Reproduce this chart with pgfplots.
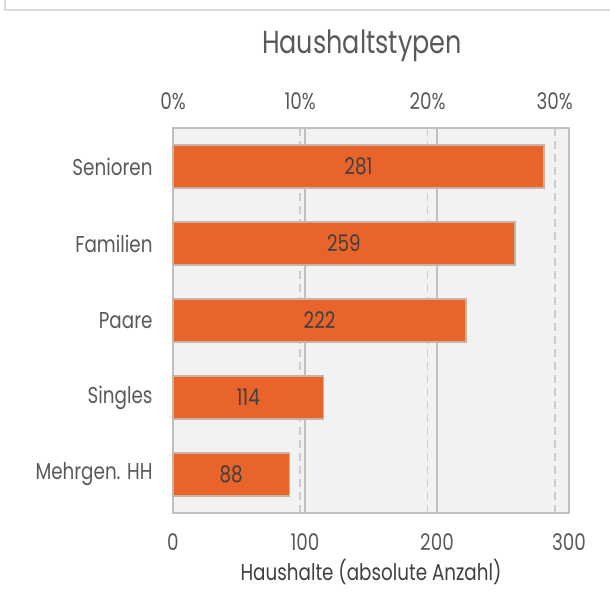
\documentclass[border=0pt]{standalone}
\usepackage{fontspec}
\setmainfont{Poppins}[FakeStretch=0.8]
\usepackage{pgfplots}
\pgfplotsset{compat=1.18}
\definecolor{barorange}{HTML}{E9642A}
\definecolor{barborder}{HTML}{C9B3A6}
\definecolor{bggray}{HTML}{F2F2F2}
\definecolor{gridsolid}{HTML}{BFBFBF}
\definecolor{griddash}{HTML}{CCCCCC}
\definecolor{txtgray}{HTML}{595959}
\definecolor{lbldark}{HTML}{404040}
\definecolor{framegray}{HTML}{D9D9D9}
\begin{document}
\begin{tikzpicture}[x=1bp,y=1bp]
\path[use as bounding box] (0,0) rectangle (610,616);
\draw[color=framegray, line width=2bp] (5,616) -- (5,606) -- (611,606);
\node[text=txtgray, font=\fontsize{32}{36}\selectfont] at (362,570) {Haushaltstypen};
% percent (secondary) axis
\begin{axis}[
  at={(173bp,103bp)}, anchor=south west,
  width=396bp, height=385bp, scale only axis,
  xmin=0, xmax=31.12, ymin=0.5, ymax=5.5,
  axis background/.style={fill=bggray},
  axis x line*=top, axis y line=none,
  x axis line style={draw=none},
  xtick={0,10,20,30},
  xticklabels={0\%,10\%,20\%,30\%},
  ytick=\empty,
  major tick length=0pt,
  xmajorgrids,
  major grid style={griddash, line width=1.6bp, dash pattern=on 8bp off 5bp},
  xticklabel style={text=txtgray, font=\fontsize{23}{26}\selectfont, yshift=15bp},
]
\addplot[xbar, bar width=43bp, fill=barorange, draw=barborder, line width=1.2bp] coordinates {
(29.15,5) (26.87,4) (23.03,3) (11.83,2) (9.13,1)};
\end{axis}
% main axis
\begin{axis}[
  at={(173bp,103bp)}, anchor=south west,
  width=396bp, height=385bp, scale only axis,
  xmin=0, xmax=300, ymin=0.5, ymax=5.5,
  axis line style={gridsolid, line width=1.5bp},
  xtick={0,100,200,300},
  ytick={1,2,3,4,5},
  yticklabels={Mehrgen. HH,Singles,Paare,Familien,Senioren},
  major tick length=0pt,
  xtick pos=bottom, ytick pos=left,
  xmajorgrids,
  major grid style={gridsolid, line width=1.3bp},
  /pgf/number format/assume math mode=true,
  xticklabel style={text=txtgray, font=\fontsize{23}{26}\selectfont, yshift=-17bp},
  yticklabel style={text=txtgray, font=\fontsize{23}{26}\selectfont, xshift=-17bp},
  xlabel={Haushalte (absolute Anzahl)},
  xlabel style={text=lbldark, font=\fontsize{23}{26}\selectfont, yshift=-2bp},
  clip=false,
]
\addplot[xbar, bar width=43bp, fill=barorange, draw=barborder, line width=1.2bp] coordinates {
(281,5) (259,4) (222,3) (114,2) (88,1)};
\addplot[draw=none, mark=none, nodes near coords, point meta=explicit symbolic,
  every node near coord/.style={anchor=center, text=lbldark, font=\fontsize{23}{26}\selectfont}]
  coordinates {(140.5,5) [281] (129.5,4) [259] (111,3) [222] (57,2) [114] (44,1) [88]};
\end{axis}
\end{tikzpicture}
\end{document}
